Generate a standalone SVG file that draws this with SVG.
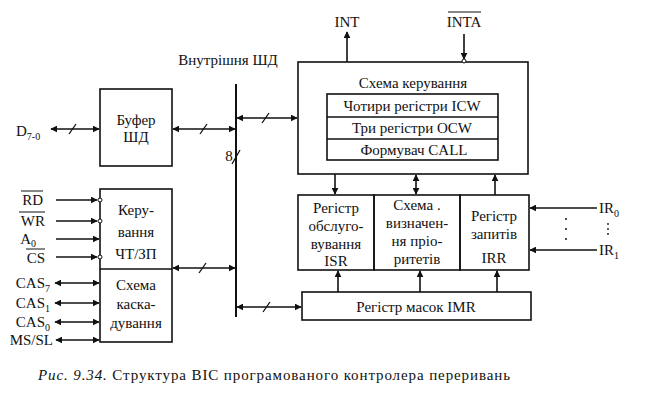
<svg xmlns="http://www.w3.org/2000/svg" width="648" height="413" viewBox="0 0 648 413">
<style>
text{fill:#111}
.c{text-anchor:middle}
.r{text-anchor:end}
.box{fill:none;stroke:#111;stroke-width:1.6}
.ln{fill:none;stroke:#111;stroke-width:1.6}
.bus{fill:none;stroke:#111;stroke-width:2}
.sl{stroke:#111;stroke-width:1.3}
.ov{stroke:#111;stroke-width:1}
</style>
<defs>
<marker id="ah" viewBox="0 0 10 10" refX="9" refY="5" markerWidth="7" markerHeight="7" markerUnits="userSpaceOnUse" orient="auto-start-reverse"><path d="M0,0 L10,5 L0,10 z" fill="#111"/></marker>
</defs>
<rect width="648" height="413" fill="#fff"/>

<g id="bus-label"><text font-family="Liberation Serif" font-size="15" x="228" y="65" class="c">Внутрішня ШД</text></g>

<g id="buffer"><rect class="box" x="100" y="89" width="72" height="77"/><text font-family="Liberation Serif" font-size="15" x="136" y="125" class="c">Буфер</text><text font-family="Liberation Serif" font-size="15" x="136" y="142" class="c">ШД</text></g>

<g id="rw-control"><rect class="box" x="100" y="189" width="72" height="153"/><line class="ln" x1="100" y1="269" x2="172" y2="269"/>
<text font-family="Liberation Serif" font-size="15" x="136" y="215" class="c">Керу-</text><text font-family="Liberation Serif" font-size="15" x="136" y="237" class="c">вання</text><text font-family="Liberation Serif" font-size="15" x="136" y="259" class="c">ЧТ/ЗП</text>
<text font-family="Liberation Serif" font-size="15" x="136" y="290" class="c">Схема</text><text font-family="Liberation Serif" font-size="15" x="136" y="309" class="c">каска-</text><text font-family="Liberation Serif" font-size="15" x="136" y="328" class="c">дування</text></g>

<g id="control"><rect class="box" x="298" y="62" width="230" height="112"/><text font-family="Liberation Serif" font-size="15" x="413" y="88" class="c">Схема керування</text>
<rect class="box" x="327" y="94" width="171" height="66"/><line class="ln" x1="327" y1="117" x2="498" y2="117"/><line class="ln" x1="327" y1="139" x2="498" y2="139"/>
<text font-family="Liberation Serif" font-size="15" x="412" y="111" class="c">Чотири регістри ICW</text><text font-family="Liberation Serif" font-size="15" x="412" y="133" class="c">Три регістри OCW</text><text font-family="Liberation Serif" font-size="15" x="414" y="155" class="c">Формувач  CALL</text></g>

<g id="isr"><rect class="box" x="298" y="195" width="76" height="75"/><text font-family="Liberation Serif" font-size="15" x="336" y="213" class="c">Регістр</text><text font-family="Liberation Serif" font-size="15" x="336" y="231" class="c">обслуго-</text><text font-family="Liberation Serif" font-size="15" x="336" y="249" class="c">вування</text><text font-family="Liberation Serif" font-size="15" x="336" y="266" class="c">ISR</text></g>
<g id="priority"><rect class="box" x="374" y="195" width="86" height="75"/><text font-family="Liberation Serif" font-size="15" x="417" y="210" class="c">Схема .</text><text font-family="Liberation Serif" font-size="15" x="417" y="228" class="c">визначен-</text><text font-family="Liberation Serif" font-size="15" x="417" y="246" class="c">ня пріо-</text><text font-family="Liberation Serif" font-size="15" x="417" y="264" class="c">ритетів</text></g>
<g id="irr"><rect class="box" x="460" y="195" width="69" height="75"/><text font-family="Liberation Serif" font-size="15" x="494" y="221" class="c">Регістр</text><text font-family="Liberation Serif" font-size="15" x="494" y="239" class="c">запитів</text><text font-family="Liberation Serif" font-size="15" x="494" y="263" class="c">IRR</text></g>

<g id="imr"><rect class="box" x="302" y="292" width="229" height="28"/><text font-family="Liberation Serif" font-size="15" x="416" y="312" class="c">Регістр  масок  IMR</text></g>

<g id="signals">
<text font-family="Liberation Serif" font-size="15" x="16" y="136">D<tspan font-size="10" dy="4">7-0</tspan></text>
<text font-family="Liberation Serif" font-size="15" x="347" y="27" class="c">INT</text>
<text font-family="Liberation Serif" font-size="15" x="464" y="27" class="c">INTA</text><line class="ov" x1="448" y1="12" x2="481" y2="12"/>
<text font-family="Liberation Serif" font-size="15" x="43" y="205" class="r">RD</text><line class="ov" x1="21" y1="191" x2="43" y2="191"/>
<text font-family="Liberation Serif" font-size="15" x="45" y="226" class="r">WR</text><line class="ov" x1="19" y1="212" x2="45" y2="212"/>
<text font-family="Liberation Serif" font-size="15" x="36" y="244" class="r">A<tspan font-size="10" dy="3">0</tspan></text>
<text font-family="Liberation Serif" font-size="15" x="45" y="263" class="r">CS</text><line class="ov" x1="26" y1="249" x2="45" y2="249"/>
<text font-family="Liberation Serif" font-size="15" x="50" y="288" class="r">CAS<tspan font-size="10" dy="4">7</tspan></text>
<text font-family="Liberation Serif" font-size="15" x="50" y="308" class="r">CAS<tspan font-size="10" dy="4">1</tspan></text>
<text font-family="Liberation Serif" font-size="15" x="50" y="327" class="r">CAS<tspan font-size="10" dy="4">0</tspan></text>
<text font-family="Liberation Serif" font-size="15" x="53" y="345" class="r">MS/SL</text>
<text font-family="Liberation Serif" font-size="15" x="599" y="213">IR<tspan font-size="10" dy="4">0</tspan></text>
<text font-family="Liberation Serif" font-size="15" x="599" y="255">IR<tspan font-size="10" dy="4">1</tspan></text>
<text font-family="Liberation Serif" font-size="15" x="229" y="161" class="c">8</text>
</g>

<g id="connectors">
<line class="bus" x1="236" y1="84" x2="236" y2="317"/>
<line class="sl" x1="232" y1="164" x2="240" y2="150"/>
<line class="ln" x1="51" y1="129" x2="99" y2="129" marker-start="url(#ah)" marker-end="url(#ah)"/><line class="sl" x1="69" y1="134" x2="76" y2="124"/>
<line class="ln" x1="173" y1="129" x2="235" y2="129" marker-start="url(#ah)" marker-end="url(#ah)"/><line class="sl" x1="200" y1="134" x2="207" y2="124"/>
<line class="ln" x1="237" y1="118" x2="297" y2="118" marker-start="url(#ah)" marker-end="url(#ah)"/><line class="sl" x1="262" y1="123" x2="269" y2="113"/>
<line class="ln" x1="173" y1="268" x2="235" y2="268" marker-start="url(#ah)" marker-end="url(#ah)"/><line class="sl" x1="199" y1="273" x2="206" y2="263"/>
<line class="ln" x1="237" y1="307" x2="301" y2="307" marker-start="url(#ah)" marker-end="url(#ah)"/><line class="sl" x1="263" y1="312" x2="270" y2="302"/>
<line class="ln" x1="347" y1="62" x2="347" y2="32" marker-end="url(#ah)"/>
<line class="ln" x1="464" y1="34" x2="464" y2="59" marker-end="url(#ah)"/><circle cx="464" cy="61" r="2" fill="#fff" stroke="#111" stroke-width="1"/>
<line class="ln" x1="335" y1="174" x2="335" y2="194" marker-end="url(#ah)"/>
<line class="ln" x1="416" y1="175" x2="416" y2="194" marker-start="url(#ah)" marker-end="url(#ah)"/>
<line class="ln" x1="495" y1="195" x2="495" y2="175" marker-end="url(#ah)"/>
<line class="ln" x1="338" y1="292" x2="338" y2="271" marker-end="url(#ah)"/>
<line class="ln" x1="420" y1="292" x2="420" y2="271" marker-end="url(#ah)"/>
<line class="ln" x1="497" y1="292" x2="497" y2="271" marker-end="url(#ah)"/>
<line class="ln" x1="597" y1="208" x2="530" y2="208" marker-end="url(#ah)"/>
<line class="ln" x1="597" y1="250" x2="530" y2="250" marker-end="url(#ah)"/>
<g fill="#111"><circle cx="566" cy="219" r="1"/><circle cx="566" cy="229" r="1"/><circle cx="566" cy="239" r="1"/><circle cx="608" cy="224" r="0.9"/><circle cx="608" cy="229" r="0.9"/><circle cx="608" cy="234" r="0.9"/></g>
<line class="ln" x1="56" y1="200" x2="97" y2="200" marker-end="url(#ah)"/><circle cx="100" cy="200" r="2" fill="#fff" stroke="#111" stroke-width="1"/>
<line class="ln" x1="56" y1="221" x2="97" y2="221" marker-end="url(#ah)"/><circle cx="100" cy="221" r="2" fill="#fff" stroke="#111" stroke-width="1"/>
<line class="ln" x1="56" y1="239" x2="99" y2="239" marker-end="url(#ah)"/>
<line class="ln" x1="56" y1="257" x2="97" y2="257" marker-end="url(#ah)"/><circle cx="100" cy="257" r="2" fill="#fff" stroke="#111" stroke-width="1"/>
<line class="ln" x1="55" y1="283" x2="99" y2="283" marker-start="url(#ah)" marker-end="url(#ah)"/>
<line class="ln" x1="55" y1="303" x2="99" y2="303" marker-start="url(#ah)" marker-end="url(#ah)"/>
<line class="ln" x1="55" y1="322" x2="99" y2="322" marker-start="url(#ah)" marker-end="url(#ah)"/>
<line class="ln" x1="56" y1="340" x2="99" y2="340" marker-start="url(#ah)" marker-end="url(#ah)"/>
</g>

<g id="caption"><text font-family="Liberation Serif" font-size="15" x="38" y="380" textLength="472" lengthAdjust="spacing"><tspan font-style="italic">Рис. 9.34.</tspan> Структура ВІС програмованого контролера переривань</text></g>
</svg>
